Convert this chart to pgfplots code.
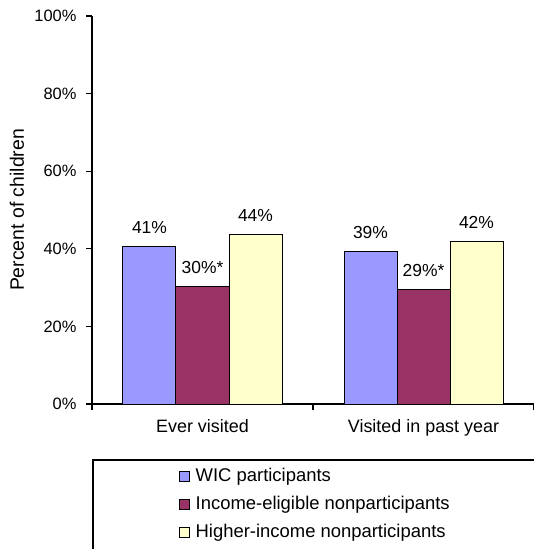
\documentclass[border=0pt]{standalone}
\usepackage{fontspec}
\setmainfont{Liberation Sans}
\usepackage{pgfplots}
\pgfplotsset{compat=1.18}
\definecolor{wic}{HTML}{9999FF}
\definecolor{inc}{HTML}{993366}
\definecolor{hig}{HTML}{FFFFCC}
\begin{document}
\begin{tikzpicture}
\useasboundingbox (-92bp,-145bp) rectangle (442bp,404bp);
\begin{axis}[
  at={(0,0)}, anchor=south west,
  scale only axis, width=442bp, height=388bp,
  xmin=-0.5, xmax=1.5, ymin=0, ymax=100,
  axis x line*=bottom, axis y line*=left,
  every outer x axis line/.append style={-},
  every outer y axis line/.append style={-},
  axis line style={line width=1.3bp, black},
  tick align=outside, major tick length=6bp,
  tick style={line width=1.3bp, black},
  ytick={0,20,...,100},
  yticklabel={\pgfmathprintnumber{\tick}\%},
  yticklabel style={font=\fontsize{16.5}{19}\selectfont, xshift=-6bp},
  /pgf/number format/assume math mode=true,
  xtick={-0.5,0.5,1.5}, xticklabels={},
  extra x ticks={0,1},
  extra x tick labels={Ever visited, Visited in past year},
  extra x tick style={major tick length=0pt, xticklabel style={font=\fontsize{18}{21}\selectfont, yshift=-12bp}},
  ylabel={Percent of children},
  ylabel style={at={(axis description cs:-0.17,0.5)}, anchor=center, font=\fontsize{19.5}{22}\selectfont},
  ybar=0pt, bar width=53bp,
  nodes near coords,
  every node near coord/.append style={font=\fontsize{17.5}{20}\selectfont, yshift=9bp, black},
  legend style={draw=none, fill=none, at={(0,0)}, anchor=north west, xshift=84bp, yshift=-60bp,
    legend cell align=left, row sep=7bp,
    nodes={font=\fontsize{18.5}{21}\selectfont, text height=13bp, text depth=4bp, inner sep=2bp}},
  legend image code/.code={\draw[#1, draw=black, line width=1bp] (0bp,-5bp) rectangle (10bp,5bp);
    \path[draw=none, fill=none] (0bp,0bp) -- (14bp,0bp);},
]
\addplot[fill=wic, draw=black, line width=1bp, point meta=explicit,
  nodes near coords={\pgfmathprintnumber{\pgfplotspointmeta}\%}]
  table[x=x, y=y, meta=m] {
x y m
0 40.7 41
1 39.2 39
};
\addplot[fill=inc, draw=black, line width=1bp, point meta=explicit,
  nodes near coords={\pgfmathprintnumber{\pgfplotspointmeta}\%*}]
  table[x=x, y=y, meta=m] {
x y m
0 30.4 30
1 29.4 29
};
\addplot[fill=hig, draw=black, line width=1bp, point meta=explicit,
  nodes near coords={\pgfmathprintnumber{\pgfplotspointmeta}\%}]
  table[x=x, y=y, meta=m] {
x y m
0 43.8 44
1 41.8 42
};
\legend{WIC participants, Income-eligible nonparticipants, Higher-income nonparticipants}
\end{axis}
\draw[line width=1.3bp] (1bp,-56bp) rectangle (500bp,-200bp);
\end{tikzpicture}
\end{document}
